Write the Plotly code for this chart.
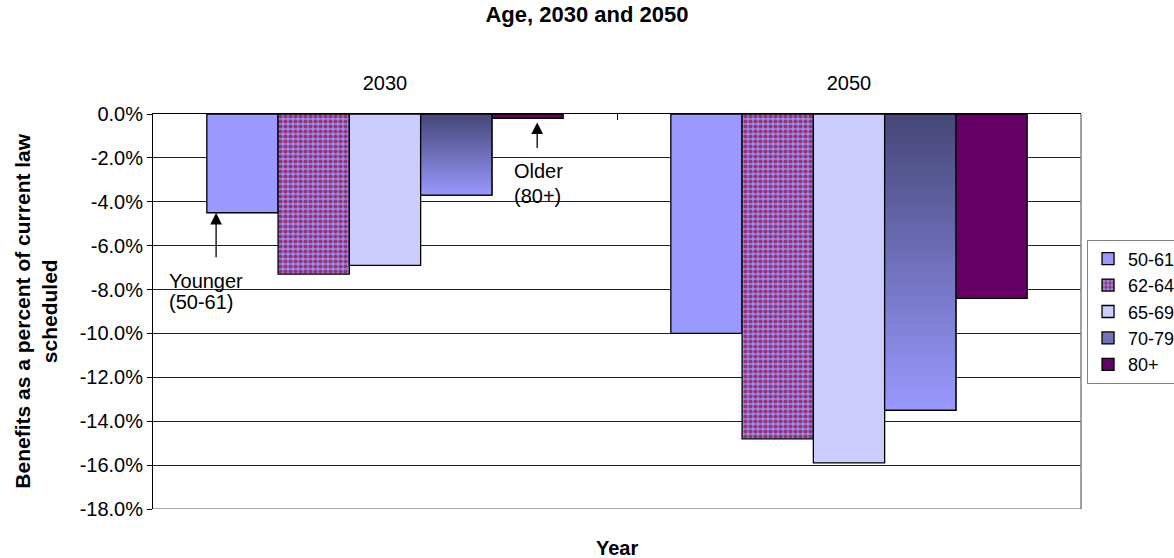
import plotly.graph_objects as go

# Benefit change by age group, percent of current-law scheduled benefits
years = ["2030", "2050"]
year_pos = [0, 1]
age_groups = ["50-61", "62-64", "65-69", "70-79", "80+"]
change_50_61 = [-4.5, -10.0]
change_62_64 = [-7.3, -14.8]
change_65_69 = [-6.9, -15.9]
change_70_79 = [-3.7, -13.5]
change_80_plus = [-0.2, -8.4]

y_ticks = [0, -2, -4, -6, -8, -10, -12, -14, -16, -18]
y_tick_labels = ["0.0%", "-2.0%", "-4.0%", "-6.0%", "-8.0%", "-10.0%",
                 "-12.0%", "-14.0%", "-16.0%", "-18.0%"]

FONT = "Liberation Sans, Arial, sans-serif"
BAR_GAP = 0.232
OUTLINE = dict(color="black", width=1.3)

series = [change_50_61, change_62_64, change_65_69, change_70_79, change_80_plus]
fig = go.Figure()

styles = [
    dict(color="#9999ff"),
    dict(color="#9999ff",
         pattern=dict(shape=".", fgcolor="#a0306e", bgcolor="#8f8ff2",
                      size=5, solidity=0.55, fillmode="replace")),
    dict(color="#ccccff"),
    dict(color="#7373b8"),
    dict(color="#660066"),
]

for name, vals, style in zip(age_groups, series, styles):
    fig.add_trace(go.Bar(x=year_pos, y=vals, name=name,
                         marker=dict(line=OUTLINE, **style),
                         hoverinfo="skip"))

# Vertical gradient fill for the 70-79 bars, laid over the grouped bar slots
n = len(age_groups)
bar_w = (1 - BAR_GAP) / n
idx = age_groups.index("70-79")
offset = -(1 - BAR_GAP) / 2 + bar_w * (idx + 0.5)
for xp, v in zip(year_pos, change_70_79):
    x0, x1 = xp + offset - bar_w / 2, xp + offset + bar_w / 2
    fig.add_trace(go.Scatter(
        x=[x0, x1, x1, x0, x0], y=[0, 0, v, v, 0],
        mode="lines", fill="toself", line=OUTLINE,
        fillgradient=dict(type="vertical",
                          colorscale=[[0, "#9999ff"], [1, "#464677"]]),
        showlegend=False, hoverinfo="skip"))

fig.update_layout(
    width=1174, height=558, autosize=False,
    barmode="group", bargap=BAR_GAP, bargroupgap=0,
    plot_bgcolor="white", paper_bgcolor="white",
    font=dict(family=FONT, size=20, color="black"),
    margin=dict(l=153, r=93, t=114, b=49, autoexpand=False),
    title=dict(text="<b>Age, 2030 and 2050</b>", x=0.5, xref="container",
               xanchor="center", y=1 - 14 / 558, yref="container",
               yanchor="middle", font=dict(size=22)),
    legend=dict(x=1.0065, xanchor="left", y=0.5, yanchor="middle",
                bordercolor="#808080", borderwidth=1, bgcolor="white",
                font=dict(size=18), itemwidth=30, tracegroupgap=0),
    xaxis=dict(range=[-0.5, 1.5], side="top", tickvals=year_pos,
               ticktext=years, showgrid=False, zeroline=False,
               showline=True, linecolor="black", linewidth=1,
               ticks="", ticklabelstandoff=15,
               minor=dict(tickvals=[0.5], ticks="inside", ticklen=6,
                          tickcolor="black", showgrid=False)),
    yaxis=dict(range=[-18, 0], tickvals=y_ticks, ticktext=y_tick_labels,
               showgrid=True, gridcolor="#222222", gridwidth=1,
               zeroline=False, showline=True, linecolor="black",
               linewidth=1, ticks="outside", ticklen=5, tickcolor="black"),
)

# Right edge of the plot frame
fig.add_shape(type="line", xref="paper", yref="paper", x0=1, x1=1, y0=0,
              y1=1, line=dict(color="#808080", width=1.5))
fig.add_shape(type="line", xref="paper", yref="y", x0=0, x1=1, y0=-18,
              y1=-18, line=dict(color="#555555", width=1))

# Axis titles
fig.add_annotation(text="<b>Benefits as a percent of current law<br>scheduled</b>",
                   xref="paper", yref="paper", x=-0.127, y=0.5,
                   xanchor="center", yanchor="middle", textangle=-90,
                   showarrow=False, font=dict(size=21))
fig.add_annotation(text="<b>Year</b>", xref="paper", yref="paper",
                   x=0.5, y=-0.099, xanchor="center", yanchor="middle",
                   showarrow=False, font=dict(size=20))

# Callouts for the youngest and oldest groups in 2030
arrow = dict(showarrow=True, arrowhead=2, arrowsize=1.8, arrowwidth=1.3,
             arrowcolor="black", text="", ax=0)
fig.add_annotation(x=-0.364, y=change_50_61[0], ay=46, standoff=0, **arrow)
fig.add_annotation(x=0.328, y=change_80_plus[0], ay=31, standoff=4, **arrow)
fig.add_annotation(text="Younger", x=-0.47, y=-7.6,
                   xanchor="left", yanchor="middle",
                   showarrow=False, font=dict(size=20))
fig.add_annotation(text="(50-61)", x=-0.47, y=-8.55,
                   xanchor="left", yanchor="middle",
                   showarrow=False, font=dict(size=20))
fig.add_annotation(text="Older", x=0.2737, y=-2.6,
                   xanchor="left", yanchor="middle",
                   showarrow=False, font=dict(size=20))
fig.add_annotation(text="(80+)", x=0.2737, y=-3.75,
                   xanchor="left", yanchor="middle",
                   showarrow=False, font=dict(size=20))

fig.write_html("out.html")
